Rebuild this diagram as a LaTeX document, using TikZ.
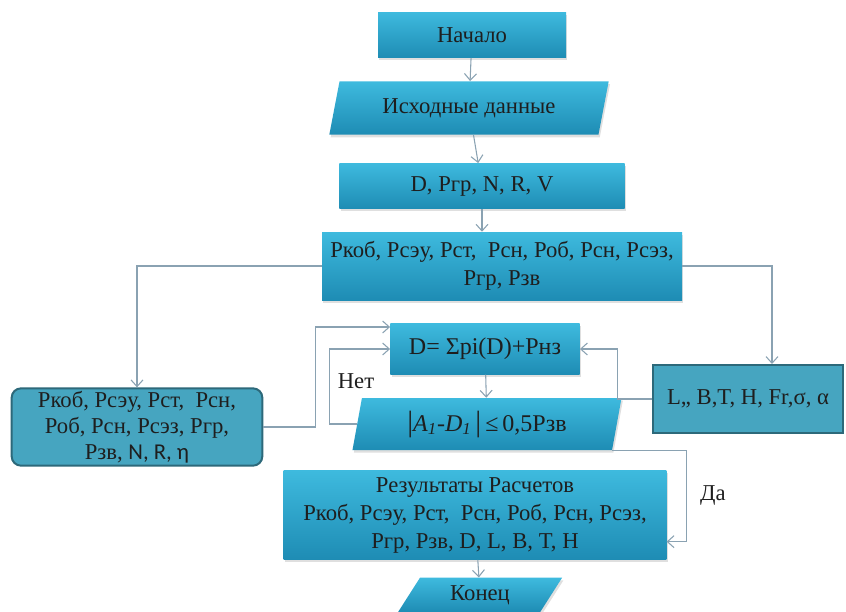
\documentclass[tikz,border=0pt]{standalone}
\usepackage{fontspec}
\setmainfont{Liberation Serif}
\newfontfamily\calfont{Carlito}
\usepackage{tikz}
\usetikzlibrary{arrows.meta}
\usetikzlibrary{positioning}
\usetikzlibrary{shapes.geometric}
\usetikzlibrary{shadows}
\definecolor{bxtop}{RGB}{62,186,222}
\definecolor{bxbot}{RGB}{30,140,180}
\definecolor{sidefill}{RGB}{70,165,192}
\definecolor{sideedge}{RGB}{45,105,122}
\definecolor{linkcol}{RGB}{138,162,178}
\definecolor{txtdark}{RGB}{30,30,30}
\tikzset{
  fc_base/.style = {align=center, inner sep=2pt, text=txtdark,
    font=\fontsize{17}{21}\selectfont},
  fc_proc/.style = {fc_base, rectangle, top color=bxtop, bottom color=bxbot,
    drop shadow={opacity=0.25, shadow xshift=1pt, shadow yshift=-2pt}},% bloc calcul
  fc_data/.style = {fc_base, trapezium, trapezium stretches=true,
    top color=bxtop, bottom color=bxbot,
    drop shadow={opacity=0.25, shadow xshift=1pt, shadow yshift=-2pt}},% bloc donnees
  fc_side/.style = {fc_base, rectangle, fill=sidefill, draw=sideedge,
    line width=1.5pt},% bloc lateral
  fc_link/.style = {draw=linkcol, line width=0.8pt},
  fc_lbl/.style = {text=txtdark, font=\fontsize{17}{20}\selectfont}
}
\newcommand{\tallbar}{{\fontsize{22}{22}\selectfont|}}

\begin{document}
\begin{tikzpicture}[x=0.75pt,y=-0.75pt,>={Straight Barb[length=5pt,width=9pt]}]
\useasboundingbox (0,0) rectangle (846,611);

\node [fc_proc, minimum width=141pt, minimum height=34pt] (nach) at (472,35) {Начало};
\node [fc_data, trapezium left angle=74, trapezium right angle=106,
  minimum width=210pt, minimum height=40pt] (isx) at (469,108) {Исходные данные};
\node [fc_proc, minimum width=214pt, minimum height=34pt] (dat) at (482,186) {D, Ргр, N, R, V};
\node [fc_proc, minimum width=270pt, minimum height=51pt] (prm) at (502,266)
  {Ркоб, Рсэу, Рст,\ \ Рсн, Роб, Рсн, Рсэз,\\ Ргр, Рзв};
\node [fc_side, rounded corners=7pt, minimum width=188pt, minimum height=58pt,
  font=\fontsize{17}{19.5}\selectfont] (lft) at (137,427)
  {Ркоб, Рсэу, Рст,\ \ Рсн,\\ Роб, Рсн, Рсэз, Ргр,\\ Рзв, {\calfont N, R, η}};
\node [fc_proc, minimum width=142pt, minimum height=38pt,
  font=\fontsize{18}{21}\selectfont] (frm) at (485,349) {D= Σpi(D)+Рнз};
\node [fc_data, trapezium left angle=79, trapezium right angle=101,
  minimum width=202pt, minimum height=39pt, font=\fontsize{18}{21}\selectfont] (cnd) at (487,424)
  {\tallbar\textit{A}\textsubscript{\textit{1}}-\textit{D}\textsubscript{\textit{1}}\,\tallbar\,≤\,0,5Рзв};
\node [fc_side, minimum width=142pt, minimum height=51pt] (rgt) at (748,399) {L,, B,T, H, Fr,σ, α};
\node [fc_proc, minimum width=287pt, minimum height=67pt] (res) at (475,515)
  {Результаты Расчетов\\ Ркоб, Рсэу, Рст,\ \ Рсн, Роб, Рсн, Рсэз,\\ Ргр, Рзв, D, L, B, T, H};
\node [fc_data, trapezium left angle=64, trapezium right angle=116,
  minimum width=124pt, minimum height=26pt] (kon) at (480,595) {Конец};

\node [fc_lbl] (net) at (356,381) {Нет};
\node [fc_lbl] (da) at (713,495) {Да};

% liens principaux
\draw [fc_link,->] (nach) -- (isx);
\draw [fc_link,->] (isx) -- (dat);
\draw [fc_link,->] (dat.south) -- (dat.south |- prm.north);
\draw [fc_link,->] (frm) -- (cnd);
\draw [fc_link,->] (res) -- (kon);

% branches laterales
\draw [fc_link,->] (prm.west) -| (lft.north);
\draw [fc_link,->] (prm.east) -| ([xshift=18pt]rgt.north);
\draw [fc_link,->] (lft.east) -- ++(52,0) |- ([yshift=16.5pt]frm.west);
\draw [fc_link,->] (rgt.west) -- ++(-35,0) |- (frm.east);

% boucle Нет / sortie Да
\draw [fc_link,->] (cnd.west) -- ++(-27,0) |- (frm.west);
\draw [fc_link,->] (cnd.bottom right corner) -- ++(74,0) |- ([yshift=-20pt]res.east);
\end{tikzpicture}
\end{document}
